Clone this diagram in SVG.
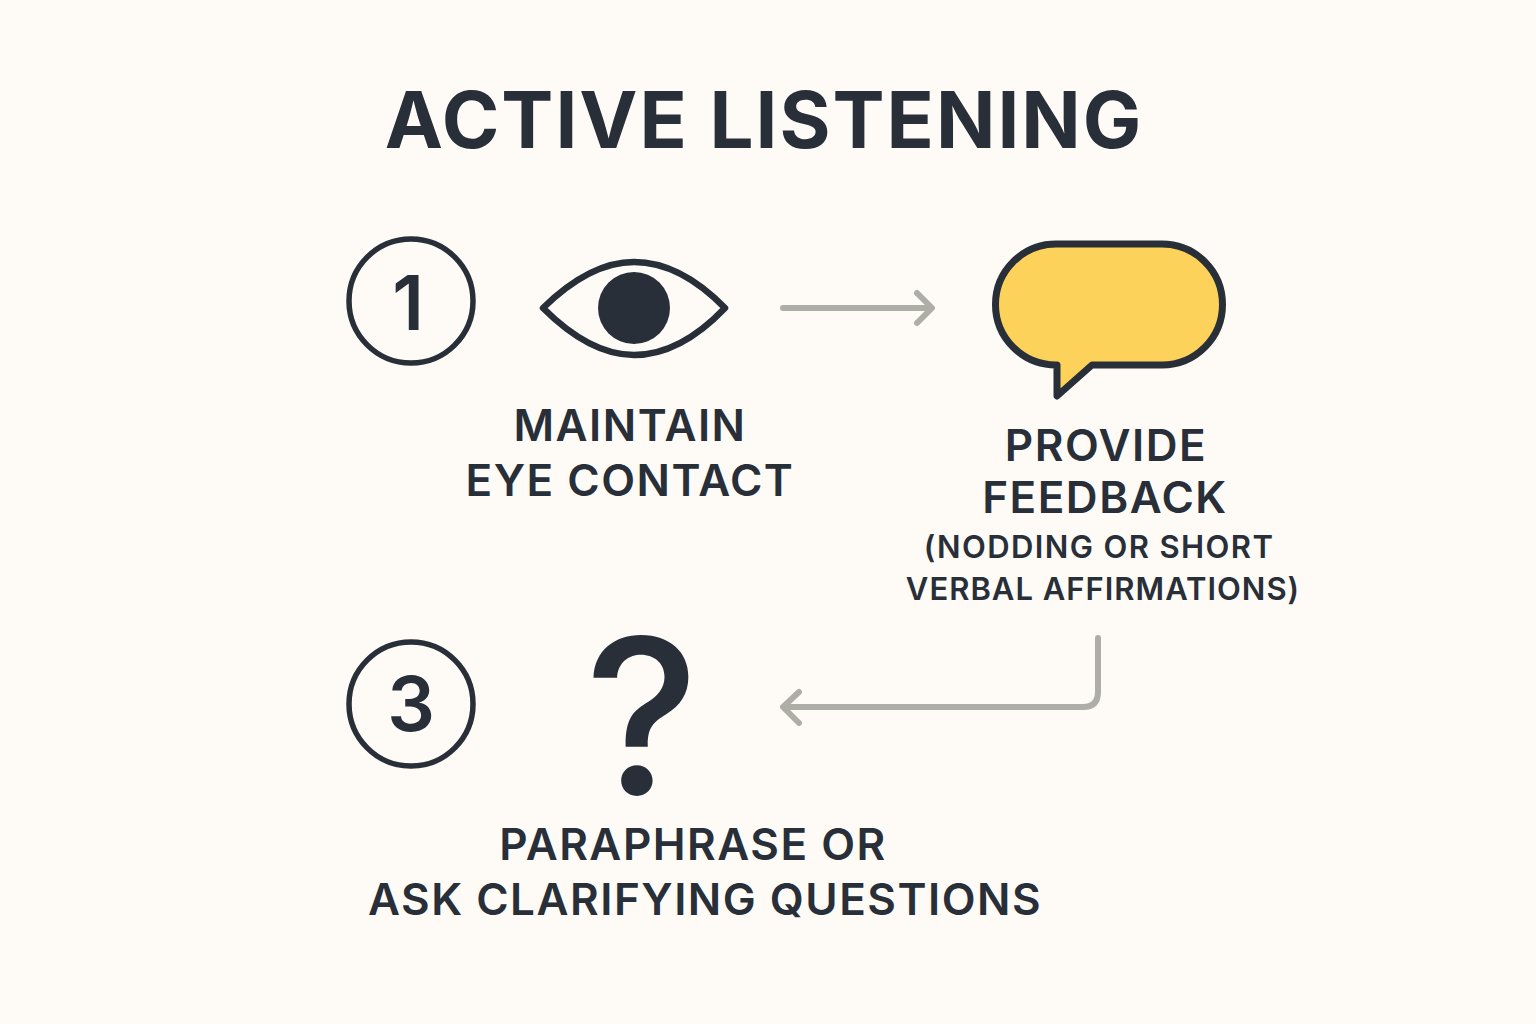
<svg xmlns="http://www.w3.org/2000/svg" width="1536" height="1024" viewBox="0 0 1536 1024">
<style>
text{font-family:Inter,"Noto Sans","Liberation Sans",sans-serif;fill:#282f38;text-anchor:middle}
.title{font-size:78px;font-weight:700;letter-spacing:2px}
.label{font-size:44px;font-weight:600;letter-spacing:1.5px}
.sub{font-size:31px;font-weight:600;letter-spacing:1.4px}
.num{font-size:75px;font-weight:600}
.ring{fill:none;stroke:#282f38;stroke-width:5.5}
.conn{fill:none;stroke:#aeaea6;stroke-width:6;stroke-linecap:round;stroke-linejoin:round}
</style>
<rect id="background" width="1536" height="1024" fill="#fefbf7"/>
<text class="title" x="764" y="148">ACTIVE LISTENING</text>
<g id="connectors">
<path class="conn" d="M783 308H931M917 293L932 308L917 323"/>
<path class="conn" d="M1098 638V692Q1098 707 1083 707H784M799 692L783 707L799 723"/>
</g>
<g id="step1">
<circle class="ring" cx="411" cy="301" r="62"/>
<text class="num" x="408" y="330">1</text>
</g>
<g id="eye">
<path d="M543 308Q590 262 634 262Q680 262 725 308Q680 355 634 355Q590 355 543 308Z" fill="none" stroke="#282f38" stroke-width="6.500" stroke-linejoin="round"/>
<circle cx="634" cy="308" r="36" fill="#282f38"/>
<text class="label" x="630" y="441">MAINTAIN</text>
<text class="label" x="630" y="496">EYE CONTACT</text>
</g>
<g id="feedback">
<path d="M1057 365H1056A60 60 0 0 1 1056 244H1162A60.500 60.500 0 0 1 1162 365H1092L1057 396Z" fill="#fcd25a" stroke="#282f38" stroke-width="7" stroke-linejoin="round"/>
<text class="label" x="1106" y="461">PROVIDE</text>
<text class="label" x="1105" y="513">FEEDBACK</text>
<text class="sub" x="1099" y="558">(NODDING OR SHORT</text>
<text class="sub" x="1103" y="600" style="letter-spacing:1px">VERBAL AFFIRMATIONS)</text>
</g>
<g id="step3">
<circle class="ring" cx="411" cy="704" r="62"/>
<text class="num" x="411" y="731">3</text>
</g>
<g id="question">
<text x="642" y="794" style="font-size:216px;font-weight:500">?</text>
<text class="label" x="693" y="860">PARAPHRASE OR</text>
<text class="label" x="705" y="915">ASK CLARIFYING QUESTIONS</text>
</g>
</svg>
